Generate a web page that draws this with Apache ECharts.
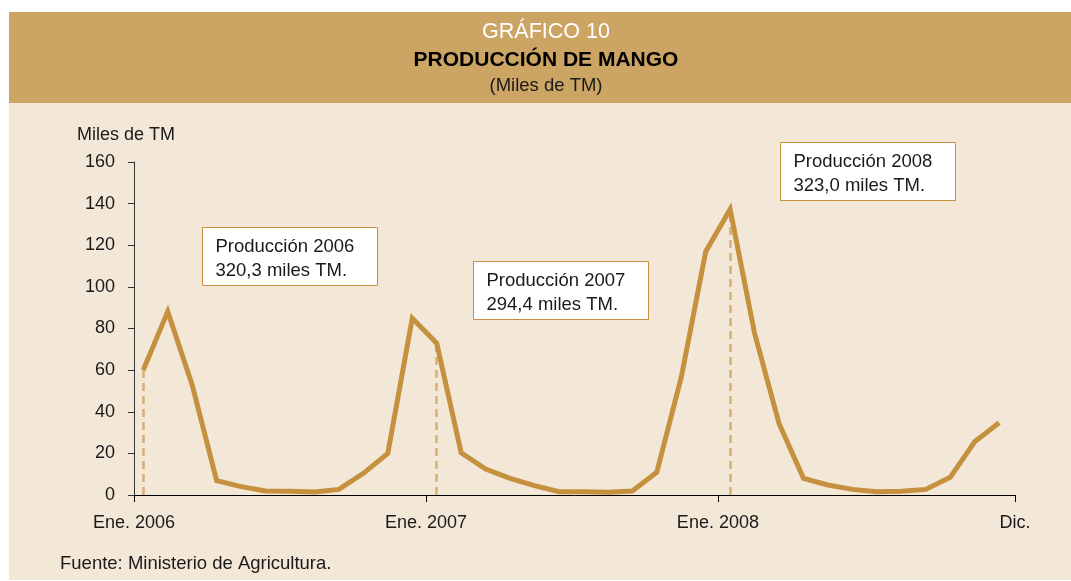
<!DOCTYPE html>
<html>
<head>
<meta charset="utf-8">
<script src="https://cdn.jsdelivr.net/npm/echarts@6/dist/echarts.min.js"></script>
<style>
html,body{margin:0;padding:0;background:#ffffff;}
#c{width:1071px;height:581px;}
</style>
</head>
<body>
<div id="c"></div>
<script>
// ---- data (miles de TM), monthly Ene 2006 .. Dic 2008 ----
var prod2006 = [60.1, 88.1, 52.9, 6.9, 4.0, 1.9, 1.8, 1.5, 2.7, 10.4, 20.0, 84.9];
var prod2007 = [72.9, 20.3, 12.5, 8.0, 4.5, 1.6, 1.6, 1.3, 1.9, 10.9, 56.5, 116.9];
var prod2008 = [137.3, 77.7, 34.4, 8.0, 4.8, 2.7, 1.6, 1.8, 2.7, 8.5, 25.6, 34.7];
var xTickPositions = [-0.38, 11.56, 23.5, 35.65];
var xTickLabels = ['Ene. 2006', 'Ene. 2007', 'Ene. 2008', 'Dic.'];
var yTicks = [0, 20, 40, 60, 80, 100, 120, 140, 160];
var boxTexts = [
  ['Producción 2006', '320,3 miles TM.'],
  ['Producción 2007', '294,4 miles TM.'],
  ['Producción 2008', '323,0 miles TM.']
];

var allValues = prod2006.concat(prod2007, prod2008);
var seriesData = allValues.map(function (v, i) { return [i, v]; });
var janIdx = [0, 12, 24];
var dropLines = janIdx.map(function (i) {
  return [{ coord: [i, 0] }, { coord: [i, allValues[i]] }];
});

var FONT = "'Liberation Sans', Arial, Helvetica, sans-serif";
var LINE = '#c5913e';
var BG = '#f3e7d7';
var HEAD = '#cca463';

function box(x, y, lines) {
  return {
    type: 'group', left: x, top: y,
    children: [
      { type: 'rect', shape: { x: 0, y: 0, width: 175, height: 58 },
        style: { fill: '#ffffff', stroke: '#c8913f', lineWidth: 1 } },
      { type: 'text', x: 13, y: 19,
        style: { text: lines[0], font: '18.5px ' + FONT, fill: '#1a1a1a', textVerticalAlign: 'middle' } },
      { type: 'text', x: 13, y: 43,
        style: { text: lines[1], font: '18.5px ' + FONT, fill: '#1a1a1a', textVerticalAlign: 'middle' } }
    ]
  };
}

var chart = echarts.init(document.getElementById('c'), null, { renderer: 'canvas' });
chart.setOption({
  animation: false,
  backgroundColor: '#ffffff',
  textStyle: { fontFamily: FONT },
  graphic: [
    { type: 'rect', z: -10, silent: true, shape: { x: 9, y: 103, width: 1062, height: 477 }, style: { fill: BG } },
    { type: 'rect', z: -10, silent: true, shape: { x: 9, y: 12, width: 1062, height: 91 }, style: { fill: HEAD } },
    { type: 'text', x: 546, y: 32, style: { text: 'GRÁFICO 10', font: '21.5px ' + FONT, fill: '#ffffff', textAlign: 'center', textVerticalAlign: 'middle' } },
    { type: 'text', x: 546, y: 60, style: { text: 'PRODUCCIÓN DE MANGO', font: 'bold 21px ' + FONT, fill: '#000000', textAlign: 'center', textVerticalAlign: 'middle' } },
    { type: 'text', x: 546, y: 86, style: { text: '(Miles de TM)', font: '18.5px ' + FONT, fill: '#1a1a1a', textAlign: 'center', textVerticalAlign: 'middle' } },
    { type: 'text', x: 77, y: 135, style: { text: 'Miles de TM', font: '18px ' + FONT, fill: '#1a1a1a', textVerticalAlign: 'middle' } },
    { type: 'text', x: 60, y: 564, style: { text: 'Fuente: Ministerio de Agricultura.', font: '18.5px ' + FONT, fill: '#1a1a1a', textVerticalAlign: 'middle' } },
    box(202, 227, boxTexts[0]),
    box(473, 261, boxTexts[1]),
    box(780, 142, boxTexts[2])
  ],
  grid: { left: 134, right: 56, top: 162, bottom: 86, containLabel: false },
  xAxis: {
    type: 'value',
    min: xTickPositions[0],
    max: xTickPositions[3],
    splitLine: { show: false },
    axisLine: { show: true, onZero: false, lineStyle: { color: '#000000', width: 1 } },
    axisTick: { show: true, customValues: xTickPositions, length: 7, lineStyle: { color: '#000000' } },
    axisLabel: {
      customValues: xTickPositions,
      margin: 19,
      color: '#1a1a1a',
      fontSize: 18,
      fontFamily: FONT,
      formatter: function (v) {
        for (var k = 0; k < xTickPositions.length; k++) {
          if (Math.abs(v - xTickPositions[k]) < 1e-6) return xTickLabels[k];
        }
        return '';
      }
    }
  },
  yAxis: {
    type: 'value',
    min: yTicks[0],
    max: yTicks[yTicks.length - 1],
    interval: 20,
    splitLine: { show: false },
    axisLine: { show: true, onZero: false, lineStyle: { color: '#333333', width: 1 } },
    axisTick: { show: true, length: 6, lineStyle: { color: '#333333' } },
    axisLabel: { color: '#1a1a1a', fontSize: 18, fontFamily: FONT, margin: 19 }
  },
  series: [{
    type: 'line',
    data: seriesData,
    symbol: 'none',
    lineStyle: { color: LINE, width: 5, join: 'miter' },
    z: 3,
    markLine: {
      silent: true,
      symbol: ['none', 'none'],
      label: { show: false },
      lineStyle: { color: '#d8b074', width: 2.5, type: [8, 5] },
      z: 2,
      data: dropLines
    }
  }]
});
</script>
</body>
</html>
